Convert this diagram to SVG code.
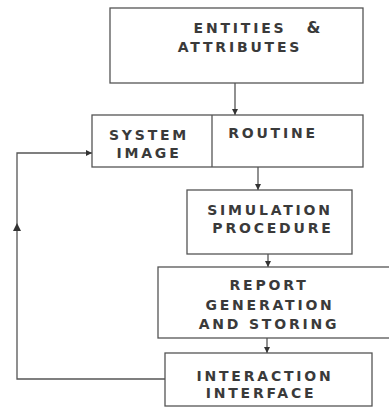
<svg xmlns="http://www.w3.org/2000/svg" width="389" height="408" viewBox="0 0 389 408">
<defs>
<style>
.box{fill:#fff;stroke:#555;stroke-width:1.3}
.t{font-family:"DejaVu Sans",sans-serif;font-weight:bold;font-size:14px;letter-spacing:2.8px;fill:#3a3a3a;text-anchor:middle}
.c{fill:none;stroke:#555;stroke-width:1.3}
</style>
<marker id="ah" viewBox="0 0 10 10" refX="10" refY="5" markerWidth="6" markerHeight="6" orient="auto" markerUnits="userSpaceOnUse">
<path d="M0,0 L10,5 L0,10 z" fill="#333"/>
</marker>
</defs>
<rect width="389" height="408" fill="#fff"/>
<g id="connectors">
<line class="c" x1="235" y1="83" x2="235" y2="115" marker-end="url(#ah)"/>
<line class="c" x1="258" y1="167" x2="258" y2="190" marker-end="url(#ah)"/>
<line class="c" x1="268" y1="254" x2="268" y2="267" marker-end="url(#ah)"/>
<line class="c" x1="267" y1="338" x2="267" y2="353" marker-end="url(#ah)"/>
<polyline class="c" points="165,379 17,379 17,153 92,153" marker-end="url(#ah)"/>
<path d="M13,231 L17,223 L21,231 z" fill="#333"/>
</g>
<g id="entities">
<rect class="box" x="110" y="8" width="253" height="75"/>
<text class="t" x="240" y="33">ENTITIES</text>
<text class="t" x="315" y="33" style="font-size:16px">&amp;</text>
<text class="t" x="240" y="52">ATTRIBUTES</text>
</g>
<g id="system-routine">
<rect class="box" x="92" y="115" width="271" height="52"/>
<line class="c" x1="212" y1="115" x2="212" y2="167"/>
<text class="t" x="149" y="140">SYSTEM</text>
<text class="t" x="149" y="158">IMAGE</text>
<text class="t" x="273" y="138">ROUTINE</text>
</g>
<g id="simulation">
<rect class="box" x="187" y="190" width="165" height="64"/>
<text class="t" x="270" y="215">SIMULATION</text>
<text class="t" x="273" y="233">PROCEDURE</text>
</g>
<g id="report">
<rect class="box" x="158" y="267" width="236" height="71"/>
<text class="t" x="269" y="290">REPORT</text>
<text class="t" x="270" y="310">GENERATION</text>
<text class="t" x="269" y="329">AND STORING</text>
</g>
<g id="interaction">
<rect class="box" x="165" y="353" width="207" height="53"/>
<text class="t" x="265" y="381">INTERACTION</text>
<text class="t" x="261" y="398">INTERFACE</text>
</g>
</svg>
